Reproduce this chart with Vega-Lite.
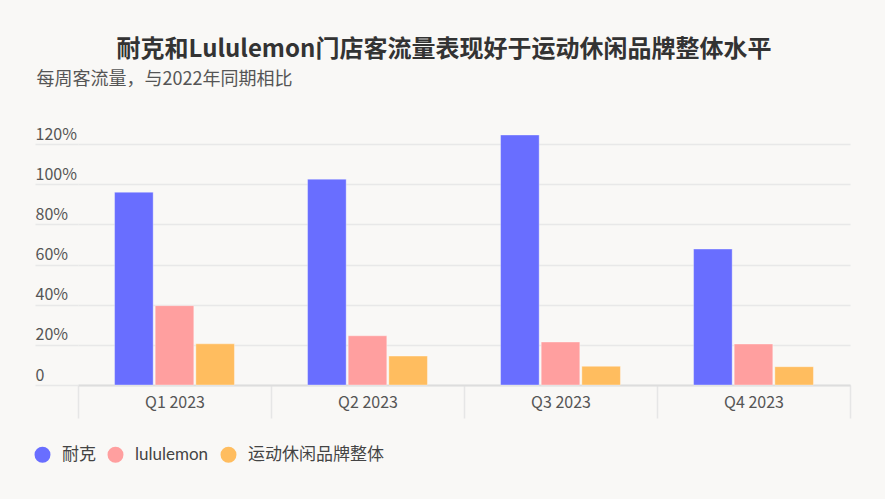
{
  "$schema": "https://vega.github.io/schema/vega-lite/v6.json",
  "width": 772,
  "height": 251,
  "autosize": {"type": "none"},
  "padding": {"left": 78, "top": 134, "right": 35, "bottom": 114},
  "background": "#f9f8f6",
  "title": {
    "text": "耐克和Lululemon门店客流量表现好于运动休闲品牌整体水平",
    "anchor": "middle",
    "dx": -20,
    "offset": 8,
    "fontSize": 24,
    "font": "Noto Sans CJK SC",
    "fontWeight": "bold",
    "color": "#333333"
  },
  "data": {
    "values": [
      {"quarter": "Q1 2023", "brand": "耐克", "value": 96},
      {"quarter": "Q1 2023", "brand": "lululemon", "value": 39.5},
      {"quarter": "Q1 2023", "brand": "运动休闲品牌整体", "value": 20.5},
      {"quarter": "Q2 2023", "brand": "耐克", "value": 102.5},
      {"quarter": "Q2 2023", "brand": "lululemon", "value": 24.5},
      {"quarter": "Q2 2023", "brand": "运动休闲品牌整体", "value": 14.4},
      {"quarter": "Q3 2023", "brand": "耐克", "value": 124.5},
      {"quarter": "Q3 2023", "brand": "lululemon", "value": 21.4},
      {"quarter": "Q3 2023", "brand": "运动休闲品牌整体", "value": 9.3},
      {"quarter": "Q4 2023", "brand": "耐克", "value": 67.7},
      {"quarter": "Q4 2023", "brand": "lululemon", "value": 20.4},
      {"quarter": "Q4 2023", "brand": "运动休闲品牌整体", "value": 9.1}
    ]
  },
  "mark": {"type": "bar", "stroke": "#ffffff", "strokeWidth": 1, "strokeOpacity": 0.35},
  "encoding": {
    "x": {
      "field": "quarter",
      "type": "nominal",
      "sort": ["Q1 2023", "Q2 2023", "Q3 2023", "Q4 2023"],
      "scale": {"paddingInner": 0, "paddingOuter": 0},
      "axis": {
        "title": null,
        "labelAngle": 0,
        "tickBand": "extent",
        "ticks": true,
        "tickSize": 33,
        "tickColor": "#e6e6e6",
        "tickWidth": 1.5,
        "labelPadding": -24,
        "labelBaseline": "top",
        "labelFontSize": 16,
        "labelFont": "Noto Sans CJK SC",
        "labelColor": "#555555",
        "domainColor": "#dddddd",
        "domainWidth": 2,
        "grid": false
      }
    },
    "xOffset": {
      "field": "brand",
      "type": "nominal",
      "sort": ["耐克", "lululemon", "运动休闲品牌整体"],
      "scale": {"paddingInner": 0.05, "paddingOuter": 0.9}
    },
    "y": {
      "field": "value",
      "type": "quantitative",
      "scale": {"domain": [0, 125], "nice": false},
      "axis": {
        "values": [0, 20, 40, 60, 80, 100, 120],
        "labelExpr": "datum.value === 0 ? '0' : datum.value + '%'",
        "domain": false,
        "ticks": true,
        "tickSize": 43,
        "tickColor": "#e8e8e8",
        "tickWidth": 1.5,
        "grid": true,
        "gridColor": "#e8e8e8",
        "gridWidth": 1.5,
        "labelAlign": "left",
        "labelBaseline": "alphabetic",
        "labelPadding": 0,
        "labelOffset": -5,
        "labelFontSize": 16,
        "labelFont": "Noto Sans CJK SC",
        "labelColor": "#555555",
        "title": "每周客流量，与2022年同期相比",
        "titleAngle": 0,
        "titleAlign": "left",
        "titleBaseline": "alphabetic",
        "titleX": -42,
        "titleY": -50,
        "titleFont": "Noto Sans CJK SC",
        "titleFontSize": 18,
        "titleFontWeight": "normal",
        "titleColor": "#555555"
      }
    },
    "color": {
      "field": "brand",
      "type": "nominal",
      "scale": {
        "domain": ["耐克", "lululemon", "运动休闲品牌整体"],
        "range": ["#696eff", "#ff9f9f", "#ffbd5f"]
      },
      "legend": {
        "title": null,
        "orient": "none",
        "direction": "horizontal",
        "legendX": -44,
        "legendY": 312,
        "symbolType": "circle",
        "symbolSize": 254,
        "symbolStrokeWidth": 0,
        "symbolOpacity": 1,
        "labelFontSize": 17,
        "labelFont": "Lato, Noto Sans CJK SC",
        "labelColor": "#444444",
        "labelOffset": 11,
        "columnPadding": 11
      }
    }
  },
  "config": {"view": {"stroke": null}}
}
